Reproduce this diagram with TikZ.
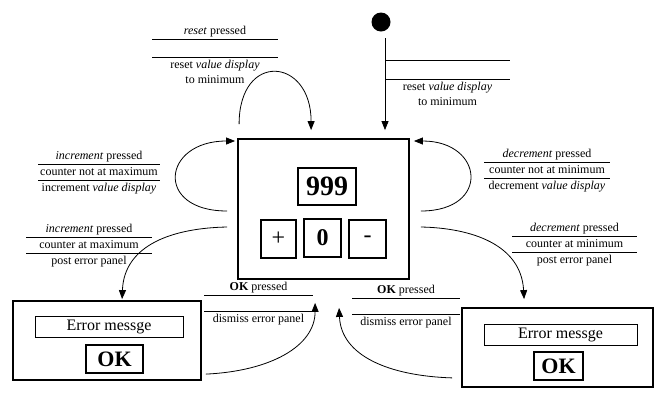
\documentclass[tikz,border=0pt]{standalone}
\usepackage{fontspec}
\setmainfont{Liberation Serif}
\usepackage{array}
\usetikzlibrary{arrows.meta,calc}
\newcolumntype{C}[1]{>{\centering\arraybackslash}p{#1}}
\setlength{\arrayrulewidth}{0.8pt}
\tikzset{
	every box/.style={
		draw,
		line width=1.8pt,
		inner sep=0pt
	},
	key/.style={
		every box,
		minimum height=38pt,
		font=\fontsize{24}{24}\selectfont
	},
	message/.style={
		draw,
		line width=0.8pt,
		inner sep=0pt,
		minimum height=21pt,
		font=\fontsize{16}{16}\selectfont
	},
	guard/.style={
		inner sep=0pt,
		anchor=north,
		font=\fontsize{12}{15}\selectfont
	},
	trans/.style={
		-{Triangle[length=9pt,width=7pt]},
		line width=0.8pt
	},
}

\begin{document}
\begin{tikzpicture}[x=1pt, y=-1pt]
\useasboundingbox (0,0) rectangle (667,400);

% counter screen
\node [every box, minimum width=171pt, minimum height=140pt] (counter) at (323.5,209) {};
\node [every box, minimum width=58pt, minimum height=37pt,
	font=\bfseries\fontsize{28}{28}\selectfont] (display) at (327,186.5) {999};
\node [key, minimum width=35pt] (plus) at (278.5,239) {+};
\node [key, minimum width=37pt, font=\bfseries\fontsize{24}{24}\selectfont] (zero) at (322.5,238) {0};
\node [key, minimum width=37pt] (minus) at (367.5,239) {-};

% error panels
\node [every box, minimum width=188pt, minimum height=79pt] (errorL) at (107,340.5) {};
\node [message, minimum width=148pt] (messageL) at (109,326.5) {Error messge};
\node [every box, minimum width=57pt, minimum height=28pt,
	font=\bfseries\fontsize{22}{22}\selectfont] (buttonL) at (114.5,359) {OK};

\node [every box, minimum width=191pt, minimum height=79pt] (errorR) at (557.5,347.5) {};
\node [message, minimum width=153pt] (messageR) at (560.5,334.5) {Error messge};
\node [every box, minimum width=49pt, minimum height=28pt,
	font=\bfseries\fontsize{22}{22}\selectfont] (buttonR) at (558.5,366) {OK};

% initial state
\node [circle, fill, inner sep=0pt, minimum size=19pt] (init) at (381,22) {};

% guards
\node [guard] (reset-lbl) at (215,24) {\begin{tabular}{@{}C{126pt}@{}}
	\textit{reset} pressed\\ \hline \\[2pt] \hline
	reset \textit{value display}\\ to minimum
\end{tabular}};
\node [guard] (init-lbl) at (447.5,60) {\begin{tabular}{@{}C{125pt}@{}}
	\hline \\[3pt] \hline
	reset \textit{value display}\\ to minimum
\end{tabular}};
\node [guard] (inc-lbl) at (99,149) {\begin{tabular}{@{}C{122pt}@{}}
	\textit{increment} pressed\\ \hline
	counter not at maximum\\ \hline
	increment \textit{value display}
\end{tabular}};
\node [guard] (incmax-lbl) at (89,222) {\begin{tabular}{@{}C{126pt}@{}}
	\textit{increment} pressed\\ \hline
	counter at maximum\\ \hline
	post error panel
\end{tabular}};
\node [guard] (dec-lbl) at (547,147) {\begin{tabular}{@{}C{126pt}@{}}
	\textit{decrement} pressed\\ \hline
	counter not at minimum\\ \hline
	decrement \textit{value display}
\end{tabular}};
\node [guard] (decmin-lbl) at (574.5,221) {\begin{tabular}{@{}C{125pt}@{}}
	\textit{decrement} pressed\\ \hline
	counter at minimum\\ \hline
	post error panel
\end{tabular}};
\node [guard] (okL-lbl) at (258.5,280) {\begin{tabular}{@{}C{109pt}@{}}
	\textbf{OK} pressed\\ \hline \\ \hline
	dismiss error panel
\end{tabular}};
\node [guard] (okR-lbl) at (406,283) {\begin{tabular}{@{}C{108pt}@{}}
	\textbf{OK} pressed\\ \hline \\ \hline
	dismiss error panel
\end{tabular}};

% transitions
\draw [trans] ($(init.south)+(4,6.5)$) -- ($(counter.north)+(61.5,-8)$);
\draw [trans] ($(counter.north west)+(2,-14)$)
	.. controls +(0,-73) and +(0,-73) .. ($(counter.north west)+(74,-8)$);
\draw [trans] ($(counter.west)+(-10,2)$)
	.. controls +(-73,0) and +(-73,0) .. ($(counter.west)+(-2,-68)$);
\draw [trans] ($(counter.east)+(11,2)$)
	.. controls +(70,0) and +(70,0) .. ($(counter.east)+(4,-68)$);
\draw [trans] ($(counter.west)+(-10,18)$)
	.. controls +(-53,1) and +(2,-55) .. ($(errorL.north west)+(110,-1)$);
\draw [trans] ($(counter.east)+(11,18)$)
	.. controls +(50,1) and +(-3,-55) .. ($(errorR.north west)+(63,-8)$);
\draw [trans] ($(errorL.north east)+(4,74)$)
	.. controls +(65,-3) and +(0,43) .. ($(counter.south west)+(78,23)$);
\draw [trans] ($(errorR.south west)+(-9,-10)$)
	.. controls +(-63,-2) and +(2,48) .. ($(counter.south west)+(102,28)$);

\end{tikzpicture}
\end{document}
